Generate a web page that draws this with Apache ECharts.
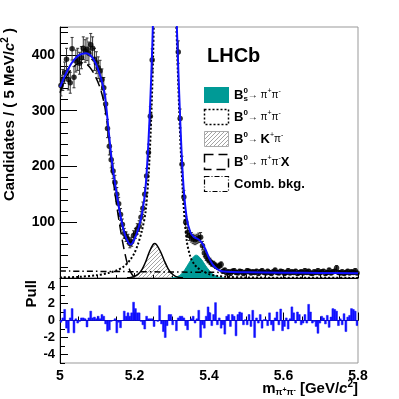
<!DOCTYPE html>
<html>
<head>
<meta charset="utf-8">
<script src="https://cdn.jsdelivr.net/npm/echarts@6/dist/echarts.min.js"></script>
<style>
html, body { margin: 0; padding: 0; background: #fff; }
#chart { width: 399px; height: 399px; }
</style>
</head>
<body>
<div id="chart"></div>
<script>
// binning of the mass histogram (5 MeV bins from 5.0 to 5.8 GeV)
var binLow = 5.0;
var binWidth = 0.005;

// candidates per bin
var counts = [
    345, 355, 368, 392, 356, 350, 411, 360, 389, 392,
    385, 395, 412, 407, 410, 403, 418, 412, 392, 386,
    377, 371, 356, 341, 312, 268, 236, 212, 192, 171,
    150, 133, 114, 96, 80, 74, 70, 62, 65, 76,
    80, 88, 93, 109, 125, 150, 183, 225, 290, 391,
    560, 820, 1150, 1480, 1760, 1900, 1920, 1780, 1500, 1180,
    880, 650, 500, 405, 286, 204, 145, 100, 82, 76,
    73, 70, 68, 70, 72, 73, 58, 45, 38, 33,
    30, 26, 25, 22, 20, 22, 24, 12, 14, 9,
    11, 8, 12, 13, 10, 9, 12, 11, 8, 10,
    13, 12, 9, 11, 10, 12, 8, 11, 13, 10,
    9, 12, 10, 8, 11, 14, 10, 9, 12, 11,
    8, 10, 13, 9, 11, 10, 12, 8, 10, 11,
    9, 13, 10, 12, 9, 8, 11, 10, 13, 9,
    11, 12, 8, 10, 14, 9, 11, 12, 18, 10,
    9, 11, 8, 10, 12, 9, 11, 10, 13, 9
];

// pull per bin
var pulls = [
    -0.2, 0.3, 1.3, -0.9, -1.45, 0.3, 1.4, -1.45, 0.2, -0.3,
    -0.1, 0.3, 0.3, 0.2, -0.75, 0.3, 1.1, 0.3, 0.4, 0.2,
    0.5, 0.2, 0.7, 0.5, -0.4, -1.25, -1.1, -0.1, 0.0, 0.2,
    -1.45, -0.2, -0.85, 0.0, 1.1, 0.5, 0.9, 0.5, 0.9, 2.15,
    1.4, 0.9, 0.9, -0.1, -0.5, -1.0, 0.5, 0.2, 0.2, 0.2,
    -0.7, 0.0, -0.1, 1.75, -0.4, -1.3, -2.0, -0.6, 0.7, 0.7,
    -0.5, 0.0, -1.2, 0.3, 0.5, 0.5, 0.3, -0.6, -1.1, 0.0,
    0.2, 0.5, -0.3, 0.2, 1.2, -2.0, -0.5, -0.9, 0.5, 1.6,
    0.9, -0.6, 0.7, 2.1, -0.5, 0.3, -0.9, -0.5, -1.6, 0.5,
    0.7, -0.7, 0.7, 0.5, -1.8, 0.7, 1.0, 0.9, -0.5, 0.1,
    -0.5, 0.7, -0.7, 1.2, -2.0, 0.3, -0.3, 0.7, -0.9, 0.1,
    0.1, -0.6, 0.9, -0.5, -1.2, 0.3, 1.0, -0.5, 1.35, -1.2,
    -0.7, 0.3, -1.0, 0.2, 1.6, 0.9, -0.3, 1.0, 0.7, -0.5,
    -0.3, 0.7, -0.3, 1.9, 1.0, -0.3, -0.1, -0.7, -1.5, -0.3,
    0.5, 0.3, -0.4, 0.6, -0.8, 0.4, 1.4, 1.3, 1.1, -0.6,
    0.2, -0.5, 0.8, -1.3, 0.4, 0.6, 1.4, 1.3, 1.1, -0.6
];

// total fit
var totalMass = [5.00, 5.01, 5.02, 5.03, 5.04, 5.05, 5.06, 5.07, 5.08, 5.09,
    5.10, 5.11, 5.12, 5.13, 5.14, 5.15, 5.16, 5.17, 5.18, 5.19,
    5.20, 5.21, 5.22, 5.23, 5.24, 5.25, 5.26, 5.27, 5.28, 5.29,
    5.30, 5.31, 5.32, 5.33, 5.34, 5.35, 5.36, 5.37, 5.38, 5.39,
    5.40, 5.41, 5.42, 5.43, 5.44, 5.46, 5.50, 5.60, 5.70, 5.80];
var totalFit = [342, 358, 372, 384, 393, 399, 402, 403, 400, 392,
    378, 358, 330, 268, 205, 160, 120, 88, 68, 60,
    70, 88, 115, 165, 280, 470, 850, 1400, 1880, 1600,
    1000, 540, 330, 180, 108, 82, 73, 70, 64, 52,
    36, 24, 17, 13, 11.5, 10.6, 10.2, 9.6, 9.0, 8.5];

// B0 -> pi+ pi- (dotted)
var bdMass = [5.00, 5.05, 5.10, 5.13, 5.15, 5.17, 5.18, 5.19, 5.20, 5.21,
    5.22, 5.23, 5.24, 5.25, 5.26, 5.27, 5.28, 5.29, 5.30, 5.31,
    5.32, 5.33, 5.34, 5.35, 5.36, 5.37, 5.38, 5.39, 5.40, 5.42,
    5.45, 5.50, 5.60, 5.80];
var bdFit = [1, 2, 5, 9, 13, 20, 26, 34, 45, 62,
    85, 120, 210, 400, 800, 1380, 1860, 1580, 980, 520,
    300, 150, 68, 38, 25, 18, 13, 10, 7, 4,
    2, 1, 0.5, 0.2];

// B0 -> K+ pi- (hatched)
var kpiMass = [5.18, 5.19, 5.20, 5.21, 5.22, 5.23, 5.24, 5.25, 5.255, 5.26,
    5.27, 5.28, 5.29, 5.30, 5.31, 5.32, 5.33];
var kpiFit = [0.5, 1, 3, 7, 15, 29, 47, 60, 62, 59,
    47, 31, 17, 8, 3, 1, 0.3];

// Bs -> pi+ pi- (teal)
var bsMass = [5.30, 5.31, 5.32, 5.33, 5.34, 5.35, 5.36, 5.365, 5.37, 5.38,
    5.39, 5.40, 5.41, 5.42, 5.43, 5.44];
var bsFit = [0.3, 1.5, 4, 10, 20, 31, 39, 41, 40, 33,
    23, 14, 7, 3, 1, 0.3];

// B0 -> pi+ pi- X (long dashes)
var prMass = [5.00, 5.01, 5.02, 5.03, 5.04, 5.05, 5.06, 5.07, 5.08, 5.09,
    5.10, 5.11, 5.12, 5.13, 5.14, 5.15, 5.16, 5.17, 5.18, 5.19,
    5.20, 5.205];
var prFit = [332, 350, 364, 374, 381, 385, 386, 384, 378, 368,
    354, 336, 308, 258, 192, 140, 96, 58, 28, 10,
    1, 0];

// combinatorial background (dash-dot)
var combMass = [5.0, 5.2, 5.4, 5.6, 5.8];
var combFit = [12.5, 11.3, 10.2, 9.3, 8.4];

var font = '"Liberation Sans", Arial, Helvetica, sans-serif';
var teal = '#009a96';
var blue = '#1010ff';

function pairs(xs, ys) {
    return xs.map(function (x, i) { return [x, ys[i]]; });
}

function hatch() {
    var c = document.createElement('canvas');
    c.width = 4;
    c.height = 4;
    var g = c.getContext('2d');
    g.strokeStyle = '#8c8c8c';
    g.lineWidth = 0.8;
    g.beginPath();
    g.moveTo(0, 4); g.lineTo(4, 0);
    g.moveTo(-1, 1); g.lineTo(1, -1);
    g.moveTo(3, 5); g.lineTo(5, 3);
    g.stroke();
    return { image: c, repeat: 'repeat' };
}

var dataPts = counts.map(function (v, i) { return [binLow + (i + 0.5) * binWidth, v]; });
var pullPts = pulls.map(function (v, i) { return [binLow + (i + 0.5) * binWidth, v]; });

function renderErr(params, api) {
    var x = api.value(0), y = api.value(1), e = Math.sqrt(y);
    var t = api.coord([x, y + e]);
    var b = api.coord([x, y - e]);
    var st = { stroke: '#333', lineWidth: 1 };
    return {
        type: 'group',
        children: [
            { type: 'line', shape: { x1: t[0], y1: t[1], x2: b[0], y2: b[1] }, style: st },
            { type: 'line', shape: { x1: t[0] - 1.5, y1: t[1], x2: t[0] + 1.5, y2: t[1] }, style: st },
            { type: 'line', shape: { x1: b[0] - 1.5, y1: b[1], x2: b[0] + 1.5, y2: b[1] }, style: st }
        ]
    };
}

function renderPull(params, api) {
    var x = api.value(0), v = api.value(1);
    var p0 = api.coord([x - binWidth / 2, 0]);
    var p1 = api.coord([x + binWidth / 2, v]);
    return {
        type: 'rect',
        shape: { x: p0[0], y: Math.min(p0[1], p1[1]), width: p1[0] - p0[0], height: Math.abs(p1[1] - p0[1]) },
        style: { fill: blue, stroke: blue, lineWidth: 0.5 }
    };
}

function fmtMass(v) {
    return String(Math.round(v * 10) / 10);
}

var tickLabel = { fontFamily: font, fontWeight: 'bold', fontSize: 14, color: '#000' };
var blackLine = { color: '#000', width: 1 };

var rich = {
    b: { fontFamily: font, fontWeight: 'bold', fontSize: 13, color: '#000' },
    sup: { fontFamily: font, fontWeight: 'bold', fontSize: 8, color: '#000', padding: [0, 0, 8, 0] },
    r: { fontFamily: font, fontSize: 10, color: '#000' },
    rsup: { fontFamily: font, fontSize: 7, color: '#000', padding: [0, 0, 7, 0] }
};

function legendText(y, str) {
    return {
        type: 'text', x: 234, y: y,
        style: { text: str, rich: rich, verticalAlign: 'middle', textVerticalAlign: 'middle' }
    };
}

var titleRich = {
    t: { fontFamily: font, fontWeight: 'bold', fontSize: 15, color: '#000' },
    i: { fontFamily: font, fontWeight: 'bold', fontStyle: 'italic', fontSize: 15, color: '#000' },
    sup: { fontFamily: font, fontWeight: 'bold', fontSize: 10, color: '#000', padding: [0, 0, 9, 0] },
    sub: { fontFamily: font, fontWeight: 'bold', fontSize: 9, color: '#000', padding: [8, 0, 0, 0] },
    subsup: { fontFamily: font, fontWeight: 'bold', fontSize: 7, color: '#000', padding: [2, 0, 0, 0] }
};

var chart = echarts.init(document.getElementById('chart'), null, { renderer: 'canvas' });

chart.setOption({
    animation: false,
    backgroundColor: '#fff',
    grid: [
        { left: 60, top: 27, width: 298, height: 251, show: true, borderColor: '#999', borderWidth: 1, outerBoundsMode: 'none' },
        { left: 60, top: 278, width: 298, height: 85, show: true, borderColor: '#999', borderWidth: 1, outerBoundsMode: 'none' }
    ],
    xAxis: [
        {
            gridIndex: 0, type: 'value', min: 5, max: 5.8, interval: 0.2,
            axisLine: { lineStyle: blackLine },
            axisTick: { inside: true, length: 5, lineStyle: blackLine },
            minorTick: { show: true, splitNumber: 4, length: 3, lineStyle: blackLine },
            axisLabel: { show: false },
            splitLine: { show: false }
        },
        {
            gridIndex: 1, type: 'value', min: 5, max: 5.8, interval: 0.2,
            axisLine: { lineStyle: blackLine },
            axisTick: { inside: true, length: 8, lineStyle: blackLine },
            minorTick: { show: true, splitNumber: 4, length: 4, lineStyle: blackLine },
            axisLabel: Object.assign({ margin: 6, formatter: fmtMass }, tickLabel),
            splitLine: { show: false }
        }
    ],
    yAxis: [
        {
            gridIndex: 0, type: 'value', min: 0, max: 450, interval: 20, position: 'left',
            axisLine: { show: true, lineStyle: blackLine },
            axisTick: { inside: true, length: 8, lineStyle: blackLine },
            axisLabel: Object.assign({ margin: 5, customValues: [100, 200, 300, 400] }, tickLabel),
            splitLine: { show: false }
        },
        {
            gridIndex: 0, type: 'value', min: 0, max: 450, position: 'left',
            axisLine: { show: false },
            axisTick: { inside: true, length: 17, lineStyle: blackLine, customValues: [100, 200, 300, 400] },
            axisLabel: { show: false },
            splitLine: { show: false }
        },
        {
            gridIndex: 1, type: 'value', min: -5, max: 5, interval: 1, position: 'left',
            axisLine: { show: true, lineStyle: blackLine },
            axisTick: { inside: true, length: 5, lineStyle: blackLine },
            axisLabel: Object.assign({ margin: 5, customValues: [-4, -2, 0, 2, 4] }, tickLabel, { fontSize: 13 }),
            splitLine: { show: false }
        },
        {
            gridIndex: 1, type: 'value', min: -5, max: 5, position: 'left',
            axisLine: { show: false },
            axisTick: { inside: true, length: 8, lineStyle: blackLine, customValues: [-4, -2, 0, 2, 4] },
            axisLabel: { show: false },
            splitLine: { show: false }
        }
    ],
    series: [
        {
            name: 'Bs', type: 'line', xAxisIndex: 0, yAxisIndex: 0, data: pairs(bsMass, bsFit),
            smooth: 0.3, showSymbol: false, symbol: 'none',
            lineStyle: { color: teal, width: 1 }, areaStyle: { color: teal, opacity: 1 }
        },
        {
            name: 'Kpi', type: 'line', xAxisIndex: 0, yAxisIndex: 0, data: pairs(kpiMass, kpiFit),
            smooth: 0.3, showSymbol: false, symbol: 'none',
            lineStyle: { color: '#000', width: 1.5 }, areaStyle: { color: hatch(), opacity: 1 }
        },
        {
            name: 'comb', type: 'line', xAxisIndex: 0, yAxisIndex: 0, data: pairs(combMass, combFit),
            smooth: 0.3, showSymbol: false, symbol: 'none',
            lineStyle: { color: '#000', width: 1.5, type: [6, 3, 1.5, 3] }
        },
        {
            name: 'prX', type: 'line', xAxisIndex: 0, yAxisIndex: 0, data: pairs(prMass, prFit),
            smooth: 0.3, showSymbol: false, symbol: 'none',
            lineStyle: { color: '#000', width: 1.5, type: [10, 5] }
        },
        {
            name: 'Bd', type: 'line', xAxisIndex: 0, yAxisIndex: 0, data: pairs(bdMass, bdFit),
            smooth: 0.3, showSymbol: false, symbol: 'none',
            lineStyle: { color: '#000', width: 2, type: [2, 2] }
        },
        {
            name: 'total', type: 'line', xAxisIndex: 0, yAxisIndex: 0, data: pairs(totalMass, totalFit),
            smooth: 0.3, showSymbol: false, symbol: 'none',
            lineStyle: { color: blue, width: 2 }
        },
        {
            name: 'err', type: 'custom', xAxisIndex: 0, yAxisIndex: 0, data: dataPts,
            renderItem: renderErr, clip: true, encode: { x: 0, y: 1 }
        },
        {
            name: 'data', type: 'scatter', xAxisIndex: 0, yAxisIndex: 0, data: dataPts,
            symbol: 'circle', symbolSize: 5.5, itemStyle: { color: '#000' }, clip: true
        },
        {
            name: 'pull', type: 'custom', xAxisIndex: 1, yAxisIndex: 2, data: pullPts,
            renderItem: renderPull, clip: true, encode: { x: 0, y: 1 }
        }
    ],
    graphic: [
        { type: 'text', x: 207, y: 56, style: { text: 'LHCb', font: 'bold 20px ' + font, fill: '#000', verticalAlign: 'middle', textVerticalAlign: 'middle' } },

        { type: 'rect', shape: { x: 204, y: 87, width: 25, height: 16 }, style: { fill: teal } },
        { type: 'rect', shape: { x: 204.5, y: 109.5, width: 24, height: 15 }, style: { fill: 'none', stroke: '#000', lineWidth: 1.5, lineDash: [2, 2] } },
        { type: 'rect', shape: { x: 204.5, y: 131.5, width: 24, height: 15 }, style: { fill: hatch(), stroke: '#aaa', lineWidth: 1 } },
        { type: 'rect', shape: { x: 204.5, y: 154.5, width: 24, height: 15 }, style: { fill: 'none', stroke: '#000', lineWidth: 1.5, lineDash: [9, 5] } },
        { type: 'rect', shape: { x: 204.5, y: 176.5, width: 24, height: 15 }, style: { fill: 'none', stroke: '#000', lineWidth: 1.2, lineDash: [5, 2, 1, 2] } },

        legendText(95, '{b|B}{sup|0}{r|\u2192 \u03c0}{rsup|+}{r|\u03c0}{rsup|-}'),
        { type: 'text', x: 243.4, y: 99, style: { text: 's', font: 'bold 8px ' + font, fill: '#000', verticalAlign: 'middle', textVerticalAlign: 'middle' } },
        legendText(117, '{b|B}{sup|0}{r|\u2192 \u03c0}{rsup|+}{r|\u03c0}{rsup|-}'),
        legendText(139, '{b|B}{sup|0}{r|\u2192 }{b|K}{rsup|+}{r|\u03c0}{rsup|-}'),
        legendText(162, '{b|B}{sup|0}{r|\u2192 \u03c0}{rsup|+}{r|\u03c0}{rsup|-}{b|X}'),
        legendText(184, '{b|Comb. bkg.}'),

        {
            type: 'text', x: 10, y: 28, rotation: Math.PI / 2,
            style: {
                text: '{t|Candidates / ( 5 MeV/}{i|c}{sup|2}{t| )}', rich: titleRich,
                align: 'right', textAlign: 'right', verticalAlign: 'middle', textVerticalAlign: 'middle'
            }
        },
        {
            type: 'text', x: 32, y: 280, rotation: Math.PI / 2,
            style: {
                text: '{t|Pull}', rich: titleRich,
                align: 'right', textAlign: 'right', verticalAlign: 'middle', textVerticalAlign: 'middle'
            }
        },
        {
            type: 'text', x: 358, y: 389,
            style: {
                text: '{t|m}{sub|\u03c0}{subsup|+}{sub|\u03c0}{subsup|-}{t| [GeV/}{i|c}{sup|2}{t|]}', rich: titleRich,
                align: 'right', textAlign: 'right', verticalAlign: 'middle', textVerticalAlign: 'middle'
            }
        }
    ]
});
</script>
</body>
</html>
